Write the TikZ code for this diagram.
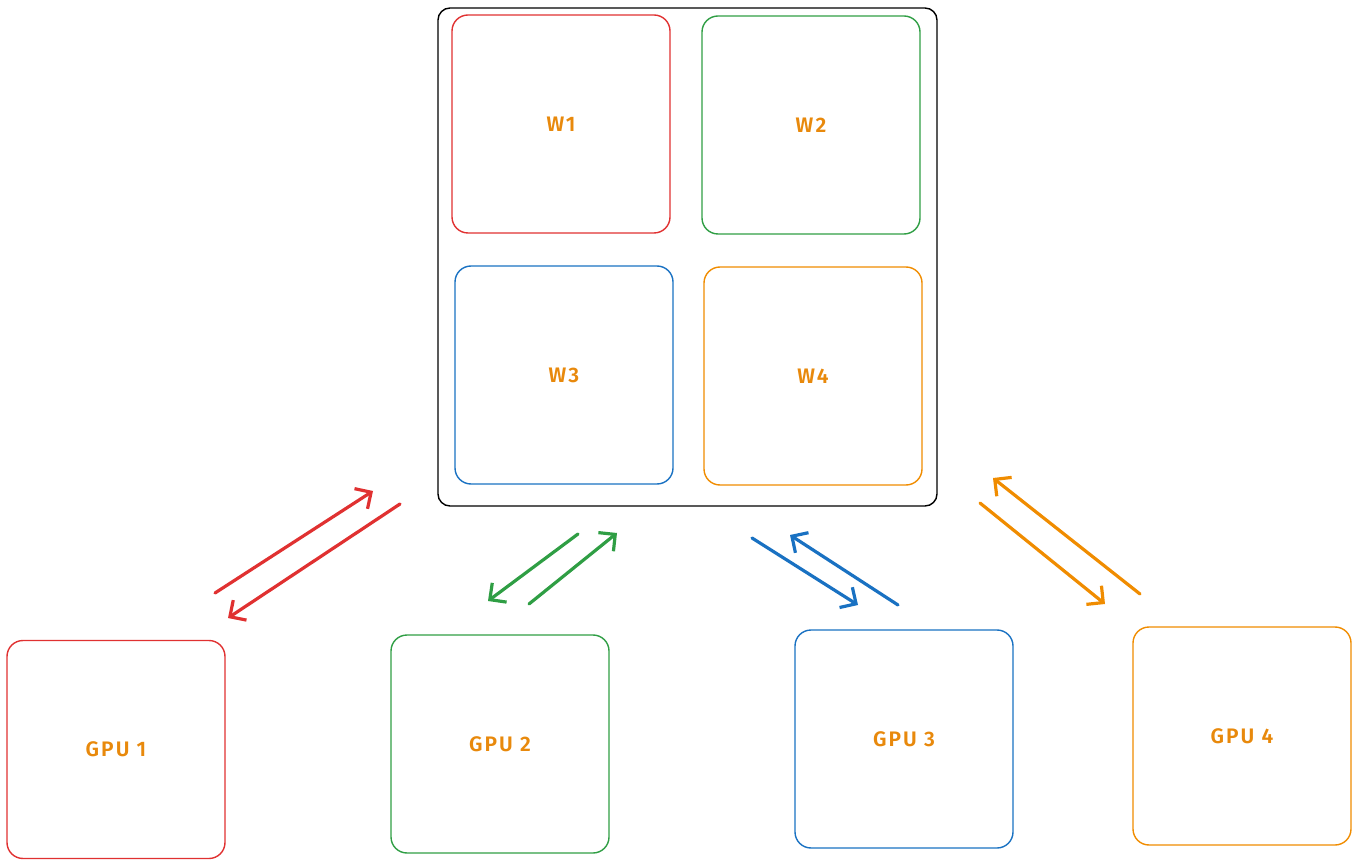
\documentclass[tikz,border=0pt]{standalone}
\usepackage{fontspec}
\setmainfont{Fira Sans}[UprightFont={* SemiBold}, BoldFont={* Bold}]
\usetikzlibrary{arrows.meta}
\definecolor{cred}{HTML}{E03131}
\definecolor{cgreen}{HTML}{2F9E44}
\definecolor{cblue}{HTML}{1971C2}
\definecolor{corange}{HTML}{F08C00}
\definecolor{ctext}{HTML}{E8890C}
\tikzset{
  box/.style={draw, line width=1.4pt, rounded corners=16pt, minimum width=218pt, minimum height=218pt,
    inner sep=0pt, text=ctext, font=\fontsize{21}{24}\selectfont\addfontfeature{LetterSpace=10}},
  flow/.style={line width=3.2pt, line cap=round, -{Straight Barb[length=12pt,width=24pt,line width=3.2pt]}},
}
\begin{document}
\begin{tikzpicture}[x=1pt,y=-1pt]
\useasboundingbox (0,0) rectangle (1358,866);
\node[draw=black, line width=1.4pt, rounded corners=12pt, minimum width=499pt, minimum height=498pt] (outer) at (687.5,257) {};
\node[box, draw=cred] (w1) at (561,124) {W1};
\node[box, draw=cgreen] (w2) at (811,125) {W2};
\node[box, draw=cblue] (w3) at (564,375) {W3};
\node[box, draw=corange] (w4) at (813,376) {W4};
\node[box, draw=cred] (g1) at (116,749.5) {GPU 1};
\node[box, draw=cgreen] (g2) at (500,744) {GPU 2};
\node[box, draw=cblue] (g3) at (904,739) {GPU 3};
\node[box, draw=corange] (g4) at (1242,736) {GPU 4};
% arrow end points
\coordinate (r1a) at (215,593); \coordinate (r1b) at (373,491);
\coordinate (r2a) at (400,504); \coordinate (r2b) at (228,618);
\coordinate (g1a) at (578,534); \coordinate (g1b) at (488,601);
\coordinate (g2a) at (529,604); \coordinate (g2b) at (617,533);
\coordinate (b1a) at (752,538); \coordinate (b1b) at (858,605);
\coordinate (b2a) at (898,605); \coordinate (b2b) at (790,535);
\coordinate (o1a) at (980,503); \coordinate (o1b) at (1105,604);
\coordinate (o2a) at (1140,594); \coordinate (o2b) at (993,478);
\draw[flow, cred] (r1a) -- (r1b);
\draw[flow, cred] (r2a) -- (r2b);
\draw[flow, cgreen] (g1a) -- (g1b);
\draw[flow, cgreen] (g2a) -- (g2b);
\draw[flow, cblue] (b1a) -- (b1b);
\draw[flow, cblue] (b2a) -- (b2b);
\draw[flow, corange] (o1a) -- (o1b);
\draw[flow, corange] (o2a) -- (o2b);
\end{tikzpicture}
\end{document}
